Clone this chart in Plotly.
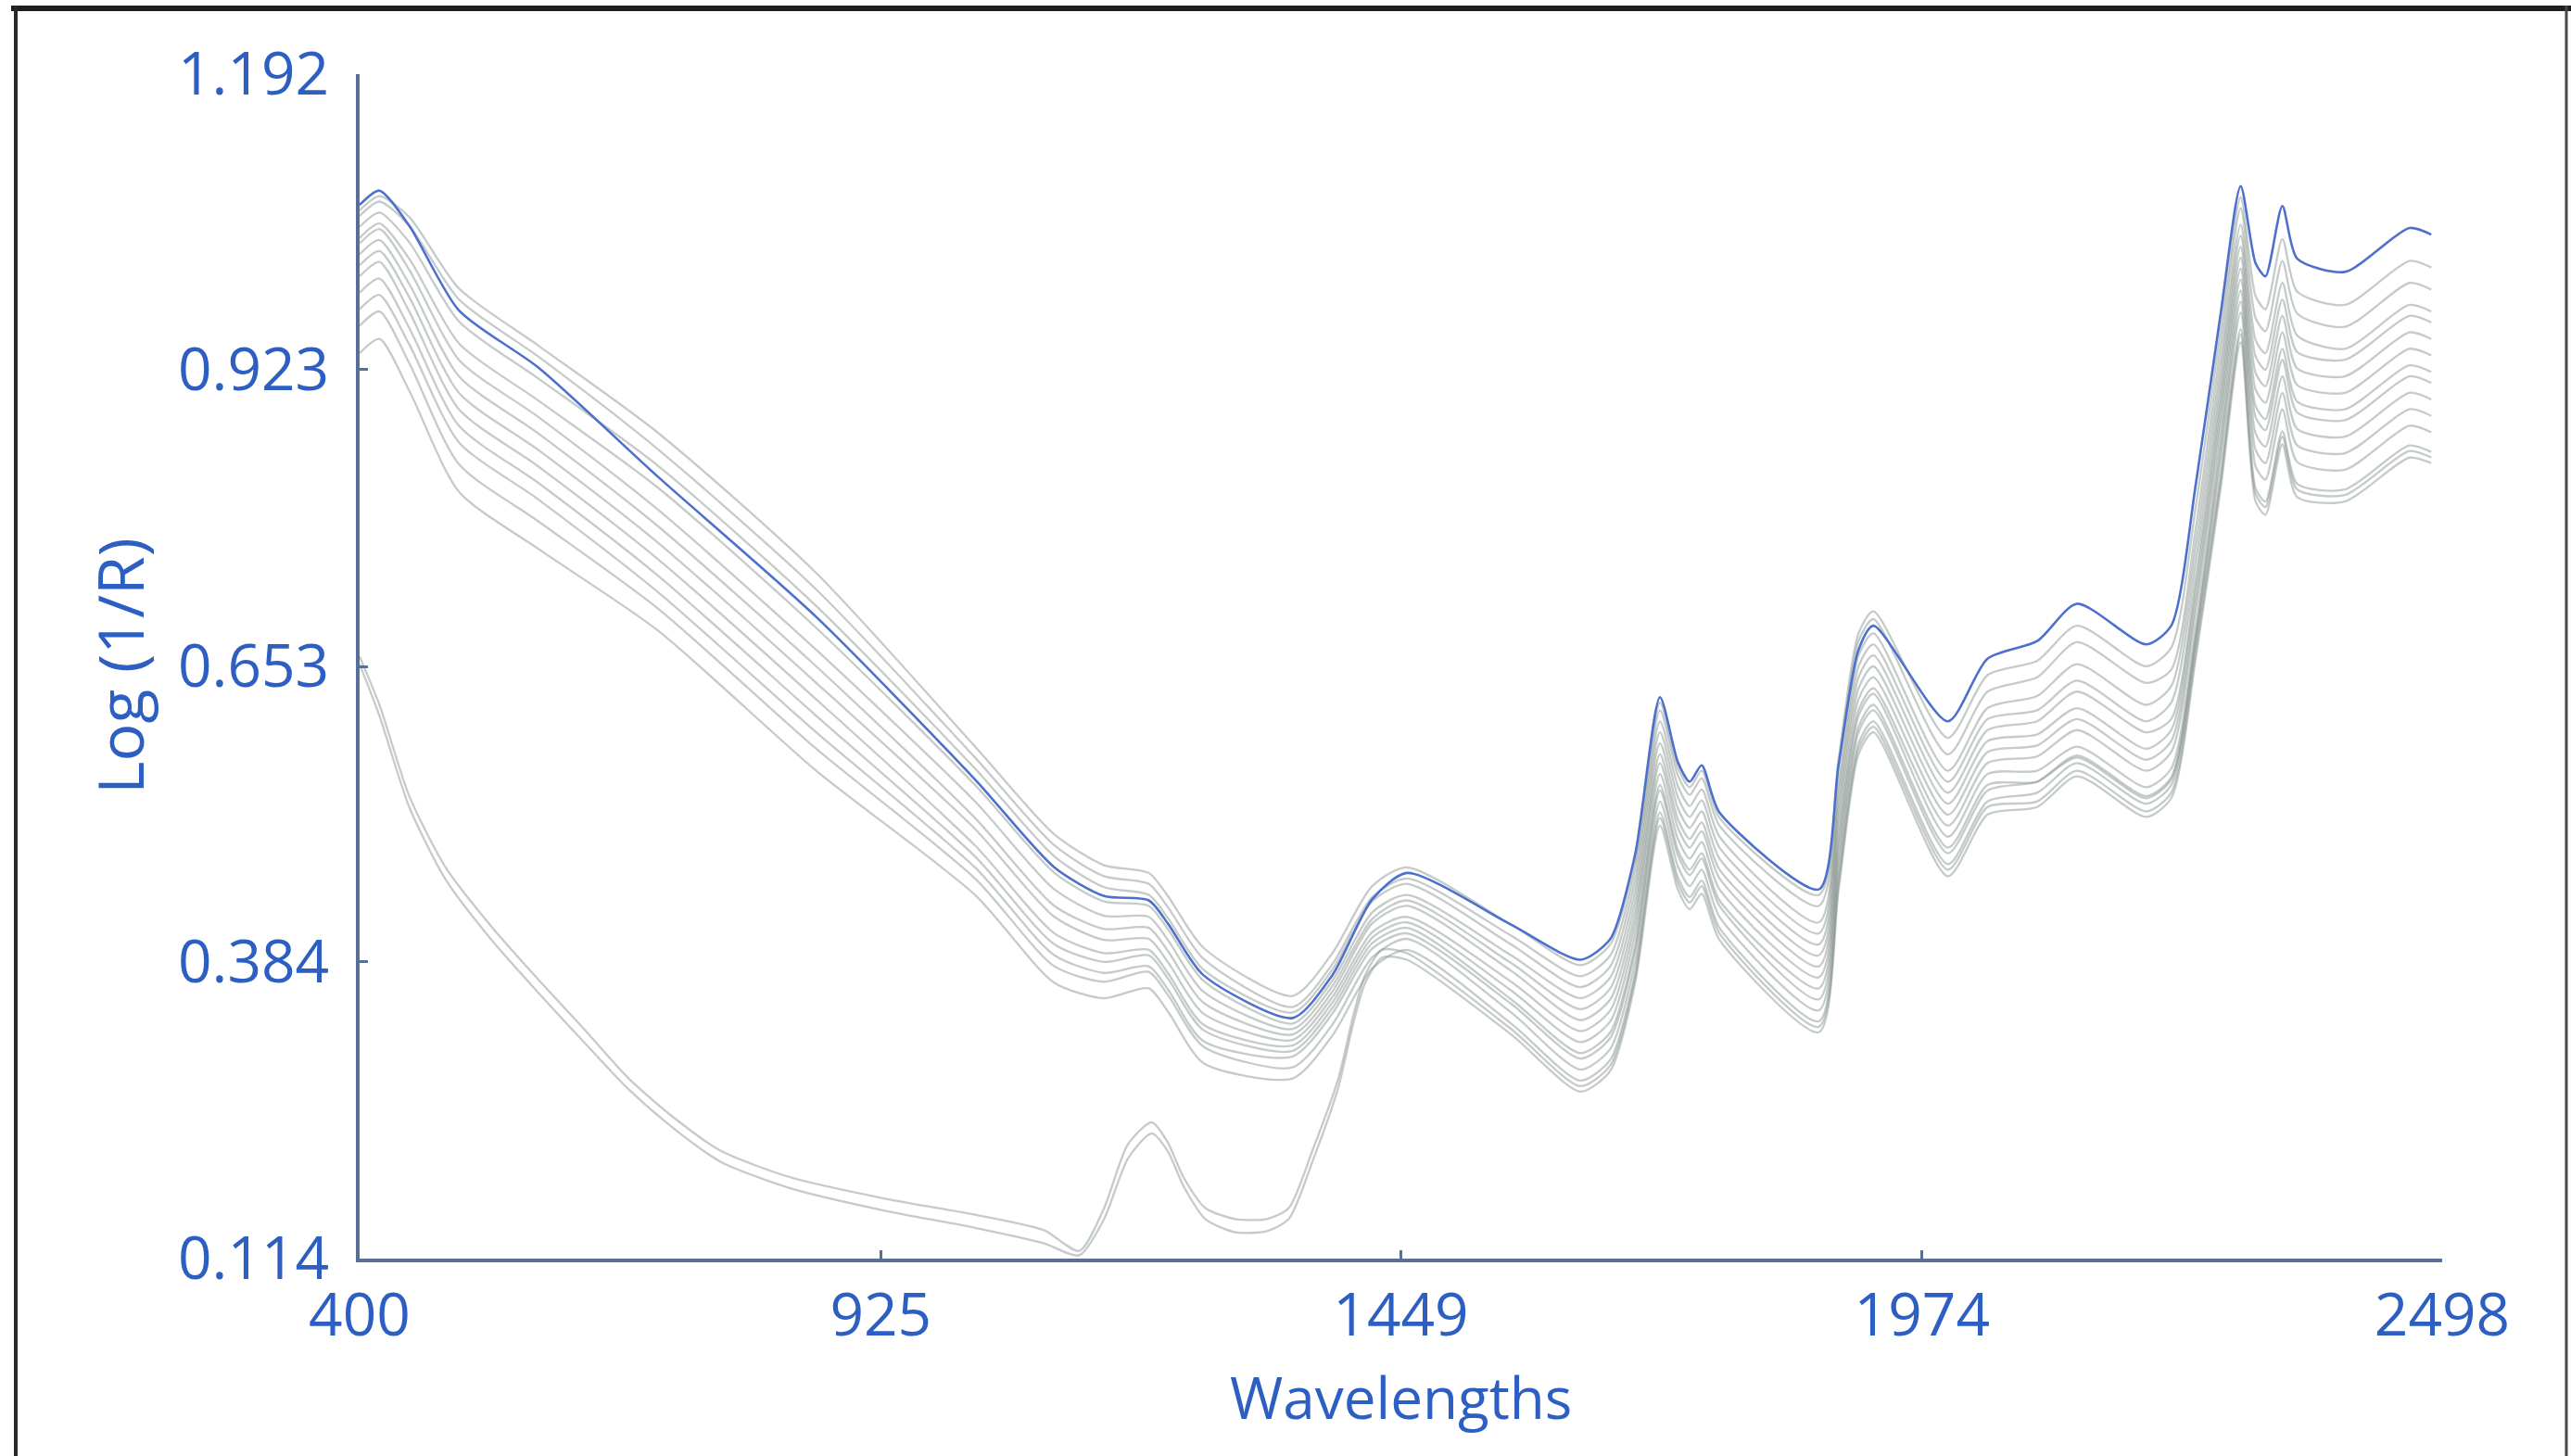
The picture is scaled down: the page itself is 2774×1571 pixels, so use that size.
import plotly.graph_objects as go

# ---------------- data ----------------
WAVELENGTHS = [400, 420, 450, 500, 580, 700, 860, 1020, 1100, 1150, 1195, 1215, 1250,
               1340, 1380, 1420, 1455, 1560, 1630, 1660, 1685, 1710, 1728, 1740, 1752,
               1770, 1870, 1890, 1910, 1925, 2000, 2040, 2090, 2130, 2200, 2225, 2250, 2275,
               2295, 2310, 2320, 2337, 2352, 2400, 2465, 2487]

REFERENCE_SPECTRUM = [1.073, 1.086, 1.054, 0.977, 0.925, 0.826, 0.698, 0.550, 0.470, 0.444,
                      0.440, 0.418, 0.372, 0.333, 0.372, 0.441, 0.465, 0.418, 0.386, 0.405,
                      0.482, 0.625, 0.566, 0.548, 0.563, 0.520, 0.450, 0.564, 0.668, 0.690,
                      0.603, 0.660, 0.676, 0.710, 0.673, 0.690, 0.820, 0.975, 1.090, 1.020, 1.008,
                      1.072, 1.024, 1.012, 1.052, 1.046]

gray_01 = [1.068, 1.081, 1.062, 0.997, 0.945, 0.866, 0.738, 0.580, 0.500, 0.472, 0.465, 0.443,
           0.397, 0.353, 0.392, 0.453, 0.470, 0.418, 0.381, 0.400, 0.477, 0.620, 0.561, 0.543,
           0.558, 0.515, 0.445, 0.569, 0.683, 0.703, 0.588, 0.645, 0.658, 0.690, 0.653, 0.670, 0.800,
           0.960, 1.080, 0.990, 0.978, 1.042, 0.994, 0.982, 1.022, 1.016]
gray_02 = [1.063, 1.076, 1.054, 0.987, 0.935, 0.851, 0.723, 0.570, 0.490, 0.462, 0.455, 0.433,
           0.387, 0.343, 0.382, 0.443, 0.460, 0.408, 0.371, 0.390, 0.469, 0.613, 0.554, 0.536,
           0.551, 0.508, 0.435, 0.561, 0.676, 0.696, 0.573, 0.630, 0.643, 0.675, 0.638, 0.650, 0.780,
           0.945, 1.070, 0.970, 0.958, 1.022, 0.974, 0.962, 1.002, 0.996]
gray_03 = [1.053, 1.066, 1.039, 0.967, 0.915, 0.836, 0.708, 0.560, 0.480, 0.452, 0.445, 0.423,
           0.377, 0.338, 0.377, 0.439, 0.455, 0.400, 0.361, 0.380, 0.459, 0.603, 0.544, 0.526,
           0.541, 0.498, 0.420, 0.546, 0.663, 0.683, 0.558, 0.615, 0.626, 0.655, 0.618, 0.635, 0.765,
           0.930, 1.055, 0.950, 0.938, 1.002, 0.954, 0.942, 0.982, 0.976]
gray_04 = [1.043, 1.056, 1.024, 0.947, 0.895, 0.816, 0.688, 0.545, 0.465, 0.439, 0.435, 0.413,
           0.367, 0.328, 0.367, 0.429, 0.445, 0.390, 0.351, 0.370, 0.449, 0.593, 0.534, 0.516,
           0.531, 0.488, 0.410, 0.536, 0.653, 0.673, 0.548, 0.605, 0.613, 0.640, 0.603, 0.620, 0.750,
           0.917, 1.045, 0.935, 0.923, 0.987, 0.939, 0.932, 0.972, 0.966]
gray_05 = [1.038, 1.051, 1.014, 0.932, 0.880, 0.796, 0.668, 0.530, 0.450, 0.426, 0.425, 0.403,
           0.357, 0.323, 0.362, 0.423, 0.440, 0.383, 0.341, 0.360, 0.439, 0.583, 0.524, 0.506,
           0.521, 0.478, 0.400, 0.526, 0.643, 0.663, 0.538, 0.595, 0.603, 0.630, 0.593, 0.605, 0.735,
           0.905, 1.035, 0.920, 0.908, 0.972, 0.924, 0.917, 0.957, 0.951]
gray_06 = [1.028, 1.041, 1.001, 0.917, 0.865, 0.781, 0.653, 0.515, 0.435, 0.414, 0.415, 0.393,
           0.347, 0.318, 0.357, 0.419, 0.435, 0.376, 0.331, 0.350, 0.429, 0.573, 0.514, 0.496,
           0.511, 0.468, 0.390, 0.516, 0.633, 0.653, 0.528, 0.585, 0.591, 0.615, 0.578, 0.595, 0.725,
           0.895, 1.025, 0.905, 0.893, 0.957, 0.909, 0.902, 0.942, 0.936]
gray_07 = [1.018, 1.031, 0.989, 0.902, 0.850, 0.766, 0.638, 0.505, 0.425, 0.404, 0.405, 0.383,
           0.337, 0.313, 0.352, 0.411, 0.425, 0.366, 0.321, 0.340, 0.420, 0.565, 0.506, 0.488,
           0.503, 0.460, 0.380, 0.506, 0.623, 0.643, 0.518, 0.575, 0.581, 0.605, 0.568, 0.585, 0.715,
           0.885, 1.015, 0.890, 0.878, 0.942, 0.894, 0.887, 0.927, 0.921]
gray_08 = [1.008, 1.021, 0.976, 0.887, 0.835, 0.751, 0.623, 0.490, 0.410, 0.392, 0.395, 0.373,
           0.327, 0.308, 0.347, 0.406, 0.420, 0.358, 0.311, 0.330, 0.410, 0.555, 0.496, 0.478,
           0.493, 0.450, 0.370, 0.496, 0.613, 0.633, 0.508, 0.565, 0.571, 0.595, 0.558, 0.575, 0.705,
           0.875, 1.005, 0.880, 0.868, 0.932, 0.884, 0.877, 0.917, 0.911]
gray_09 = [0.993, 1.006, 0.961, 0.872, 0.820, 0.736, 0.608, 0.480, 0.400, 0.384, 0.390, 0.368,
           0.322, 0.303, 0.342, 0.401, 0.415, 0.350, 0.301, 0.320, 0.399, 0.545, 0.486, 0.468,
           0.483, 0.440, 0.360, 0.489, 0.608, 0.628, 0.498, 0.555, 0.558, 0.580, 0.543, 0.560, 0.690,
           0.862, 0.995, 0.865, 0.853, 0.917, 0.869, 0.862, 0.902, 0.896]
gray_10 = [0.978, 0.991, 0.946, 0.857, 0.805, 0.721, 0.593, 0.470, 0.390, 0.374, 0.380, 0.358,
           0.312, 0.298, 0.337, 0.396, 0.410, 0.346, 0.296, 0.315, 0.394, 0.540, 0.481, 0.463,
           0.478, 0.435, 0.350, 0.479, 0.598, 0.618, 0.488, 0.545, 0.548, 0.570, 0.533, 0.550, 0.680,
           0.852, 0.985, 0.850, 0.838, 0.902, 0.854, 0.847, 0.887, 0.881]
gray_11 = [0.963, 0.976, 0.929, 0.837, 0.785, 0.706, 0.578, 0.460, 0.380, 0.366, 0.375, 0.353,
           0.307, 0.288, 0.327, 0.388, 0.405, 0.338, 0.286, 0.305, 0.384, 0.530, 0.471, 0.453,
           0.468, 0.425, 0.340, 0.471, 0.593, 0.613, 0.483, 0.540, 0.548, 0.572, 0.535, 0.552, 0.682,
           0.842, 0.975, 0.835, 0.823, 0.887, 0.839, 0.832, 0.872, 0.866]
gray_12 = [0.938, 0.951, 0.904, 0.812, 0.760, 0.686, 0.558, 0.445, 0.365, 0.351, 0.360, 0.338,
           0.292, 0.278, 0.317, 0.378, 0.395, 0.328, 0.276, 0.295, 0.374, 0.520, 0.461, 0.443,
           0.458, 0.415, 0.330, 0.461, 0.583, 0.603, 0.473, 0.530, 0.538, 0.565, 0.528, 0.545, 0.675,
           0.827, 0.960, 0.815, 0.803, 0.867, 0.819, 0.814, 0.854, 0.848]

OUTLIER_WAVELENGTHS = [400, 420, 450, 486, 532, 578, 625, 671, 717, 764,
                       834, 927, 1020, 1089, 1125, 1150, 1174, 1198, 1214, 1230,
                       1252, 1282, 1314, 1336, 1361, 1386, 1401, 1413, 1430, 1455,
                       1560, 1630, 1660, 1685, 1710, 1728, 1740, 1752, 1770, 1870,
                       1890, 1910, 1925, 2000, 2040, 2090, 2130, 2200, 2225, 2250, 2275,
                       2295, 2310, 2320, 2337, 2352, 2400, 2465, 2487]
outlier_a = [0.662, 0.618, 0.535, 0.471, 0.417, 0.370, 0.324, 0.278, 0.242, 0.212,
             0.188, 0.169, 0.154, 0.140, 0.121, 0.160, 0.218, 0.238, 0.220, 0.188,
             0.160, 0.150, 0.150, 0.160, 0.215, 0.278, 0.335, 0.372, 0.395, 0.392,
             0.323, 0.271, 0.290, 0.370, 0.515, 0.456, 0.438, 0.453, 0.410, 0.325,
             0.456, 0.578, 0.598, 0.468, 0.525, 0.530, 0.558, 0.521, 0.538, 0.668, 0.823,
             0.955, 0.810, 0.798, 0.862, 0.814, 0.809, 0.849, 0.843]
outlier_b = [0.655, 0.608, 0.525, 0.460, 0.405, 0.358, 0.312, 0.268, 0.232, 0.202,
             0.178, 0.158, 0.142, 0.128, 0.117, 0.150, 0.205, 0.228, 0.212, 0.180,
             0.150, 0.138, 0.139, 0.150, 0.205, 0.270, 0.328, 0.365, 0.388, 0.386,
             0.318, 0.266, 0.285, 0.365, 0.508, 0.450, 0.432, 0.446, 0.404, 0.320,
             0.450, 0.573, 0.593, 0.462, 0.518, 0.525, 0.553, 0.516, 0.533, 0.662, 0.816,
             0.948, 0.803, 0.791, 0.855, 0.807, 0.803, 0.843, 0.838]

GRAY_SPECTRA = [gray_01, gray_02, gray_03, gray_04, gray_05, gray_06,
                gray_07, gray_08, gray_09, gray_10, gray_11, gray_12]
OUTLIER_SPECTRA = [outlier_a, outlier_b]

X_TICKS = [400, 925, 1449, 1974, 2498]
Y_TICKS = [0.114, 0.384, 0.653, 0.923, 1.192]
Y_TICK_TEXT = ["0.114", "0.384", "0.653", "0.923", "1.192"]
X_TITLE = "Wavelengths"
Y_TITLE = "Log (1/R)"

# ---------------- figure ----------------
W, H = 2774, 1571
L, R, T, B = 388, 2635, 80, 1358
GRAY = "rgba(140,152,145,0.5)"
BLUE = "rgb(78,112,205)"
TXT = "rgb(45,95,195)"
AXIS = "rgb(88,112,152)"
FONT = "Open Sans"

fig = go.Figure()
for ys in GRAY_SPECTRA:
    assert len(ys) == len(WAVELENGTHS)
    fig.add_trace(go.Scatter(x=WAVELENGTHS, y=ys, mode="lines",
                             line=dict(color=GRAY, width=2.3, shape="spline", smoothing=0.7),
                             hoverinfo="skip", showlegend=False))
for ys in OUTLIER_SPECTRA:
    assert len(ys) == len(OUTLIER_WAVELENGTHS)
    fig.add_trace(go.Scatter(x=OUTLIER_WAVELENGTHS, y=ys, mode="lines",
                             line=dict(color=GRAY, width=2.3, shape="spline", smoothing=0.7),
                             hoverinfo="skip", showlegend=False))
assert len(REFERENCE_SPECTRUM) == len(WAVELENGTHS)
fig.add_trace(go.Scatter(x=WAVELENGTHS, y=REFERENCE_SPECTRUM, mode="lines",
                         line=dict(color=BLUE, width=2.6, shape="spline", smoothing=0.7),
                         showlegend=False))

def px_x(p):
    return (p - L) / (R - L)

def px_y(p):
    return (B - p) / (B - T)

fig.update_layout(
    width=W, height=H,
    margin=dict(l=L, r=W - R, t=T, b=H - B, pad=0),
    paper_bgcolor="white", plot_bgcolor="white",
    font=dict(family=FONT, color=TXT, size=64),
    showlegend=False,
    xaxis=dict(range=[400, 2498], tickvals=X_TICKS, ticktext=[str(v) for v in X_TICKS],
               showgrid=False, zeroline=False, showline=True, linecolor=AXIS, linewidth=4,
               ticks="inside", ticklen=9, tickwidth=3, tickcolor=AXIS,
               tickfont=dict(family=FONT, size=64, color=TXT), ticklabelstandoff=2),
    yaxis=dict(range=[0.114, 1.192], tickvals=Y_TICKS, ticktext=Y_TICK_TEXT,
               showgrid=False, zeroline=False, showline=True, linecolor=AXIS, linewidth=4,
               ticks="inside", ticklen=9, tickwidth=3, tickcolor=AXIS,
               tickfont=dict(family=FONT, size=64, color=TXT), ticklabelstandoff=16),
    annotations=[
        dict(text=X_TITLE, xref="paper", yref="paper", x=0.5, y=px_y(1507),
             xanchor="center", yanchor="middle", showarrow=False,
             font=dict(family=FONT, size=62, color=TXT)),
        dict(text=Y_TITLE, xref="paper", yref="paper", x=px_x(128), y=0.5,
             xanchor="center", yanchor="middle", textangle=-90, showarrow=False,
             font=dict(family=FONT, size=68, color=TXT)),
    ],
    shapes=[
        dict(type="line", xref="paper", yref="paper", x0=px_x(12), x1=px_x(2774),
             y0=px_y(9), y1=px_y(9), line=dict(color="rgb(30,30,30)", width=6)),
        dict(type="line", xref="paper", yref="paper", x0=px_x(17), x1=px_x(17),
             y0=px_y(6), y1=px_y(1575), line=dict(color="rgb(40,40,40)", width=4)),
        dict(type="line", xref="paper", yref="paper", x0=px_x(2769), x1=px_x(2769),
             y0=px_y(6), y1=px_y(1575), line=dict(color="rgb(70,70,70)", width=3)),
    ],
)

fig.write_html("out.html")
